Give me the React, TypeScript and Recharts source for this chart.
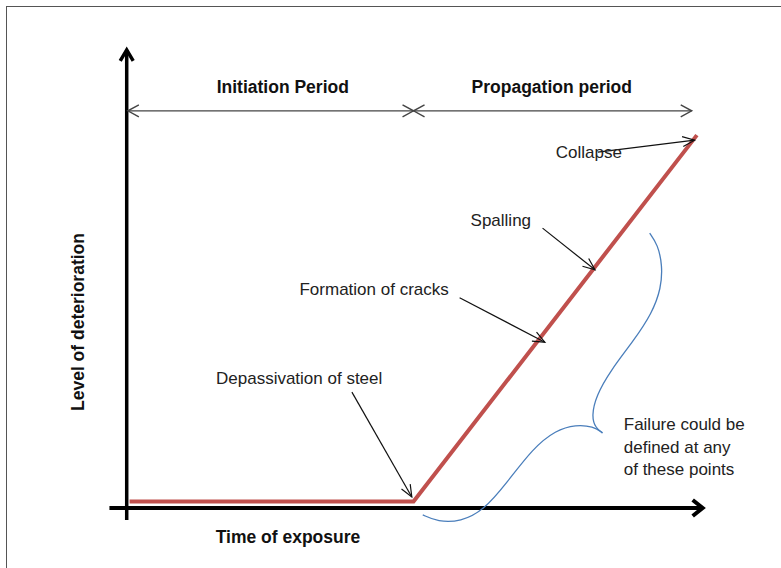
import { LineChart, Line, XAxis, YAxis, ReferenceLine, ReferenceDot } from "recharts";

// deterioration curve (time of exposure vs level of deterioration)
const deterioration = [
  { time: 0.05, level: 0.14 },
  { time: 4.98, level: 0.14 },
  { time: 9.9, level: 8.14 },
];

// blue curly brace, upper and lower branch, both ending at the tip
const braceUpper = [
  { time: 9.08, level: 6.0 },
  { time: 9.22, level: 5.75 },
  { time: 9.3, level: 5.3 },
  { time: 9.28, level: 4.8 },
  { time: 9.12, level: 4.25 },
  { time: 8.8, level: 3.65 },
  { time: 8.4, level: 3.0 },
  { time: 8.15, level: 2.45 },
  { time: 8.07, level: 2.0 },
  { time: 8.14, level: 1.75 },
  { time: 8.26, level: 1.64 },
];
const braceLower = [
  { time: 8.26, level: 1.64 },
  { time: 8.1, level: 1.78 },
  { time: 7.8, level: 1.82 },
  { time: 7.45, level: 1.7 },
  { time: 7.05, level: 1.3 },
  { time: 6.6, level: 0.55 },
  { time: 6.2, level: -0.05 },
  { time: 5.8, level: -0.3 },
  { time: 5.4, level: -0.3 },
  { time: 5.14, level: -0.15 },
];

const periods = [
  { label: "Initiation Period", from: 0.02, to: 4.98, mid: 2.71 },
  { label: "Propagation period", from: 4.98, to: 9.81, mid: 7.38 },
];
const periodArrowLevel = 8.67;
const periodLabelLevel = 9.19;

const stages = [
  { label: "Depassivation of steel", x: 1.55, y: 2.82, fromX: 3.91, fromY: 2.53, toX: 4.95, toY: 0.24 },
  { label: "Formation of cracks", x: 3.0, y: 4.78, fromX: 5.78, fromY: 4.59, toX: 7.26, toY: 3.62 },
  { label: "Spalling", x: 5.97, y: 6.27, fromX: 7.22, fromY: 6.11, toX: 8.13, toY: 5.2 },
  { label: "Collapse", x: 7.45, y: 7.75, fromX: 8.18, fromY: 7.77, toX: 9.86, toY: 8.03 },
];

const failureNote = ["Failure could be", "defined at any", "of these points"];
const failureX = 8.63;
const failureLevels = [1.83, 1.33, 0.85];

const FONT = "'Liberation Sans', Arial, sans-serif";

type Seg = { x1: number; y1: number; x2: number; y2: number };

function head(x1: number, y1: number, x2: number, y2: number, len: number, spread: number) {
  const dx = x2 - x1;
  const dy = y2 - y1;
  const d = Math.hypot(dx, dy) || 1;
  const ux = dx / d;
  const uy = dy / d;
  const bx = x2 - ux * len;
  const by = y2 - uy * len;
  return `${bx - uy * spread},${by + ux * spread} ${x2},${y2} ${bx + uy * spread},${by - ux * spread}`;
}

const arrowShape =
  (color: string, width: number, len: number, spread: number, both = false) =>
  (props: unknown) => {
    const { x1, y1, x2, y2 } = props as Seg;
    return (
      <g>
        <line x1={x1} y1={y1} x2={x2} y2={y2} stroke={color} strokeWidth={width} />
        <polyline points={head(x1, y1, x2, y2, len, spread)} fill="none" stroke={color} strokeWidth={width} />
        {both && <polyline points={head(x2, y2, x1, y1, len, spread)} fill="none" stroke={color} strokeWidth={width} />}
      </g>
    );
  };

const textShape =
  (text: string, opts: { anchor?: "start" | "middle"; bold?: boolean; size?: number; rotate?: boolean } = {}) =>
  (props: unknown) => {
    const { cx, cy } = props as { cx: number; cy: number };
    return (
      <text
        x={cx}
        y={cy}
        textAnchor={opts.anchor ?? "start"}
        dominantBaseline="central"
        fontFamily={FONT}
        fontSize={opts.size ?? 17}
        fontWeight={opts.bold ? "bold" : "normal"}
        fill={opts.bold ? "#111" : "#222"}
        transform={opts.rotate ? `rotate(-90 ${cx} ${cy})` : undefined}
      >
        {text}
      </text>
    );
  };

export default function App() {
  return (
    <div style={{ position: "absolute", left: 0, top: 0, width: 781, height: 568, overflow: "hidden", background: "#fff" }}>
      <div
        style={{
          position: "absolute",
          left: 6,
          top: 6,
          width: 820,
          height: 620,
          border: "1.5px solid #555",
        }}
      />
      <div style={{ position: "absolute", left: 0, top: 0 }}>
        <LineChart width={781} height={568} margin={{ top: 0, right: 0, bottom: 0, left: 0 }}>
          <XAxis type="number" dataKey="time" domain={[-2.2, 11.36]} allowDataOverflow hide />
          <YAxis type="number" dataKey="level" domain={[-1.31, 11.09]} allowDataOverflow hide />

          {/* axes */}
          <ReferenceLine
            segment={[{ x: 0, y: -0.26 }, { x: 0, y: 10 }]}
            ifOverflow="visible"
            shape={arrowShape("#000", 3.5, 11, 6.5)}
          />
          <ReferenceLine
            segment={[{ x: -0.3, y: 0 }, { x: 10, y: 0 }]}
            ifOverflow="visible"
            shape={arrowShape("#000", 4, 10, 8)}
          />

          {/* period arrows */}
          {periods.map((p) => (
            <ReferenceLine
              key={p.label}
              segment={[{ x: p.from, y: periodArrowLevel }, { x: p.to, y: periodArrowLevel }]}
              ifOverflow="visible"
              shape={arrowShape("#444", 1.4, 11, 6, true)}
            />
          ))}
          {periods.map((p) => (
            <ReferenceDot
              key={`l-${p.label}`}
              x={p.mid}
              y={periodLabelLevel}
              r={0}
              ifOverflow="visible"
              shape={textShape(p.label, { anchor: "middle", bold: true, size: 17.5 })}
            />
          ))}

          <Line
            data={deterioration}
            dataKey="level"
            type="linear"
            stroke="#c0504d"
            strokeWidth={4}
            dot={false}
            activeDot={false}
            isAnimationActive={false}
          />
          <Line
            data={braceUpper}
            dataKey="level"
            type="basis"
            stroke="#4a7ebb"
            strokeWidth={1.3}
            dot={false}
            activeDot={false}
            isAnimationActive={false}
          />
          <Line
            data={braceLower}
            dataKey="level"
            type="basis"
            stroke="#4a7ebb"
            strokeWidth={1.3}
            dot={false}
            activeDot={false}
            isAnimationActive={false}
          />

          {/* stage annotations */}
          {stages.map((s) => (
            <ReferenceLine
              key={`a-${s.label}`}
              segment={[{ x: s.fromX, y: s.fromY }, { x: s.toX, y: s.toY }]}
              ifOverflow="visible"
              shape={arrowShape("#111", 1.2, 12, 5)}
            />
          ))}
          {stages.map((s) => (
            <ReferenceDot key={`t-${s.label}`} x={s.x} y={s.y} r={0} ifOverflow="visible" shape={textShape(s.label)} />
          ))}

          {failureNote.map((line, i) => (
            <ReferenceDot
              key={line}
              x={failureX}
              y={failureLevels[i]}
              r={0}
              ifOverflow="visible"
              shape={textShape(line)}
            />
          ))}

          {/* axis titles */}
          <ReferenceDot
            x={2.8}
            y={-0.63}
            r={0}
            ifOverflow="visible"
            shape={textShape("Time of exposure", { anchor: "middle", bold: true, size: 17.5 })}
          />
          <ReferenceDot
            x={-0.85}
            y={4.06}
            r={0}
            ifOverflow="visible"
            shape={textShape("Level of deterioration", { anchor: "middle", bold: true, size: 17.5, rotate: true })}
          />
        </LineChart>
      </div>
    </div>
  );
}
